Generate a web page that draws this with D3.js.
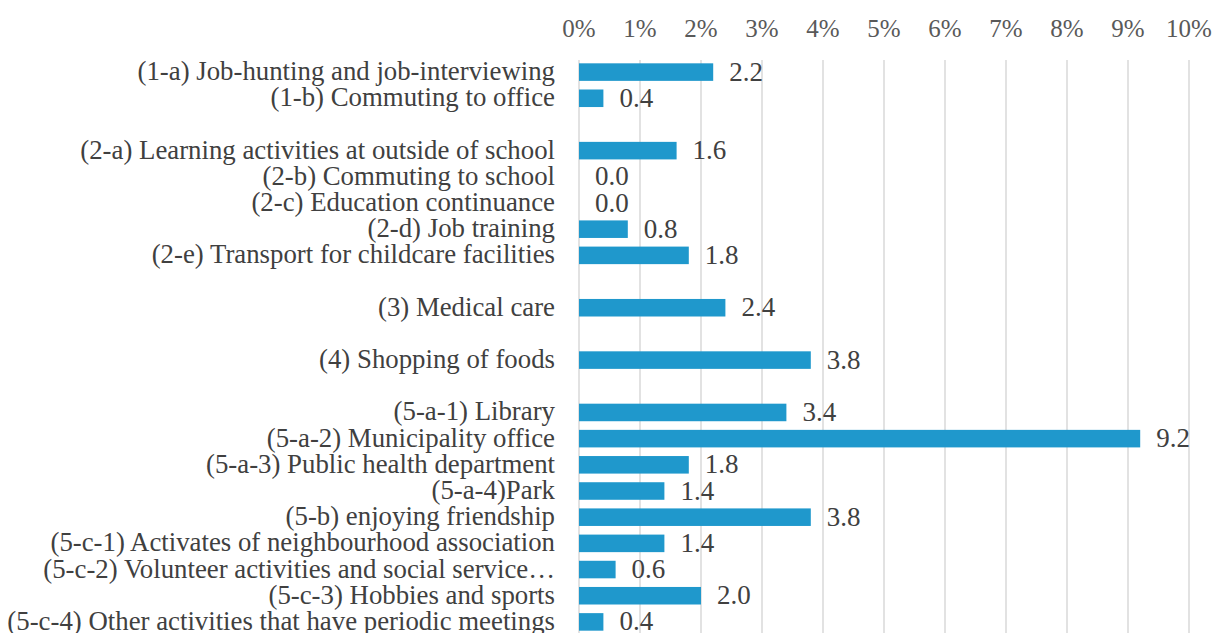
<!DOCTYPE html>
<html lang="en">
<head>
    <meta charset="UTF-8">
    <title>Trip purposes</title>
    <script src="https://d3js.org/d3.v7.min.js"></script>
    <style>
        body { margin: 0; background: #fff; }
        .cat { fill: #404040; font-size: 26.8px; }
        .tick-label { fill: #595959; font-size: 25px; }
        .val { fill: #404040; font-size: 27px; }
        .grid { stroke: #d9d9d9; stroke-width: 1.5; }
        .bar { fill: #1f98cc; }
    </style>
</head>
<body>
    <svg id="chart"></svg>
    <script>
        // empty strings are the blank rows between the groups
        const categories = [
            "(1-a) Job-hunting and job-interviewing",
            "(1-b) Commuting to office",
            "",
            "(2-a) Learning activities at outside of school",
            "(2-b) Commuting to school",
            "(2-c) Education continuance",
            "(2-d) Job training",
            "(2-e) Transport for childcare facilities",
            " ",
            "(3) Medical care",
            "  ",
            "(4) Shopping of foods",
            "   ",
            "(5-a-1) Library",
            "(5-a-2) Municipality office",
            "(5-a-3) Public health department",
            "(5-a-4)Park",
            "(5-b) enjoying friendship",
            "(5-c-1) Activates of neighbourhood association",
            "(5-c-2) Volunteer activities and social service…",
            "(5-c-3) Hobbies and sports",
            "(5-c-4) Other activities that have periodic meetings"
        ];
        const values = [2.2, 0.4, null, 1.6, 0.0, 0.0, 0.8, 1.8, null, 2.4, null, 3.8, null,
            3.4, 9.2, 1.8, 1.4, 3.8, 1.4, 0.6, 2.0, 0.4];
        const ticks = [0, 1, 2, 3, 4, 5, 6, 7, 8, 9, 10];

        const width = 1216, height = 633;
        const serif = "'Liberation Serif', 'Times New Roman', 'DejaVu Serif', serif";
        const svg = d3.select("#chart").attr("width", width).attr("height", height)
            .style("font-family", serif);

        const x = d3.scaleLinear().domain([0, 10]).range([579, 1189]);
        const y = d3.scaleBand().domain(categories).range([59, 635])
            .paddingInner(0.33).paddingOuter(0.165);

        const rows = categories.map((c, i) => ({ cat: c, v: values[i] }));

        // vertical gridlines
        svg.selectAll(".grid").data(ticks).join("line")
            .attr("class", "grid")
            .attr("x1", d => x(d)).attr("x2", d => x(d))
            .attr("y1", 60).attr("y2", height);

        svg.selectAll(".tick-label").data(ticks).join("text")
            .attr("class", "tick-label")
            .attr("x", d => x(d)).attr("y", 37)
            .attr("text-anchor", "middle")
            .text(d => d + "%");

        svg.selectAll(".cat").data(rows.filter(d => d.cat.trim())).join("text")
            .attr("class", "cat")
            .attr("x", 555)
            .attr("y", d => y(d.cat) + y.bandwidth() / 2 + 8)
            .attr("text-anchor", "end")
            .text(d => d.cat);

        const filled = rows.filter(d => d.v !== null);

        svg.selectAll(".bar").data(filled).join("rect")
            .attr("class", "bar")
            .attr("x", x(0))
            .attr("y", d => y(d.cat))
            .attr("width", d => x(d.v) - x(0))
            .attr("height", y.bandwidth());

        svg.selectAll(".val").data(filled).join("text")
            .attr("class", "val")
            .attr("x", d => x(d.v) + 16)
            .attr("y", d => y(d.cat) + y.bandwidth() / 2 + 8.5)
            .text(d => d.v.toFixed(1));
    </script>
</body>
</html>
